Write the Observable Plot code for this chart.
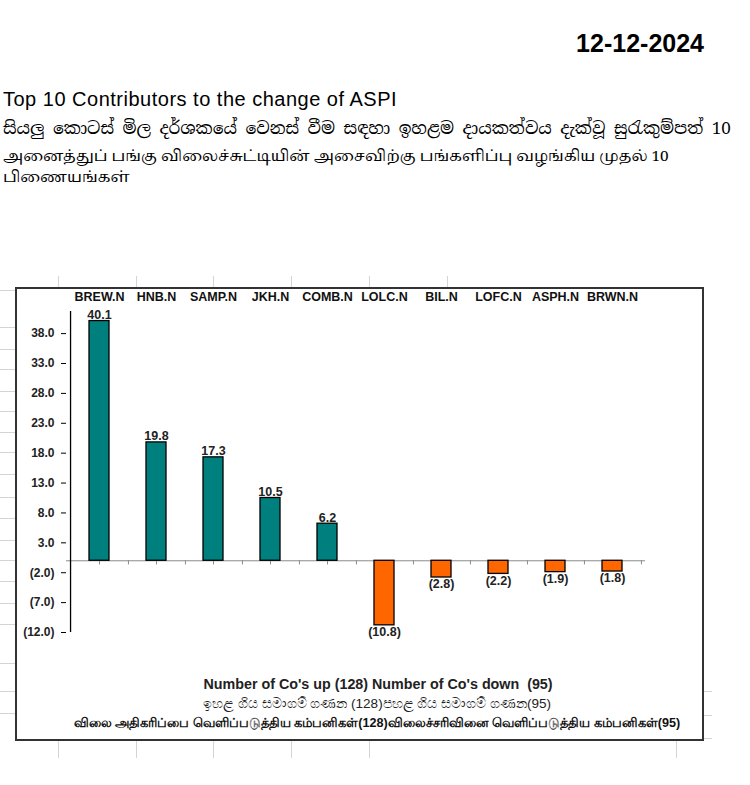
<!DOCTYPE html>
<html><head><meta charset="utf-8">
<script src="https://cdn.jsdelivr.net/npm/d3@7"></script>
<script src="https://cdn.jsdelivr.net/npm/@observablehq/plot@0.6"></script>
<style>
body{margin:0;background:#fff;font-family:"Liberation Sans",Arial,sans-serif;color:#000;}
#page{position:relative;width:750px;height:785px;overflow:hidden;}
.abs{position:absolute;white-space:nowrap;}
.gl{position:absolute;background:#d4d4d4;}
.ta{font-family:"Noto Serif Tamil","Noto Sans Tamil","Lohit Tamil","Latha","FreeSerif","FreeSans",serif;}
.si{font-family:"Noto Serif Sinhala","Noto Sans Sinhala","Iskoola Pota",serif;}
#box{position:absolute;left:15px;top:287px;width:689px;height:454px;border:2px solid #333;box-sizing:border-box;background:#fff;}
#chart{position:absolute;left:0;top:287px;}
</style></head><body><div id="page">
<div id="deco"></div>
<div id="box"></div>
<div class="abs" style="right:46px;top:30px;font-size:25px;line-height:26px;font-weight:bold;">12-12-2024</div>
<div class="abs" style="left:3px;top:89px;font-size:20px;line-height:20px;letter-spacing:0.5px;">Top 10 Contributors to the change of ASPI</div>
<div class="abs si" style="left:3px;top:117px;font-size:17px;line-height:22px;">සියලු කොටස් මිල දර්ශකයේ වෙනස් වීම සඳහා ඉහළම දායකත්වය දැක්වූ සුරැකුම්පත් 10</div>
<div class="abs ta" style="left:3px;top:148px;font-size:15.3px;line-height:19px;">அனைத்துப் பங்கு விலைச்சுட்டியின் அசைவிற்கு பங்களிப்பு வழங்கிய முதல் 10</div>
<div class="abs ta" style="left:3px;top:169px;font-size:15.3px;line-height:19px;">பிணையங்கள்</div>
<div id="chart"></div>
<div class="abs" style="left:378px;top:677px;transform:translateX(-50%);font-size:14.3px;line-height:14px;font-weight:bold;color:#222;">Number of Co's up (128) Number of Co's down&nbsp; (95)</div>
<div class="abs" style="left:377px;top:697px;transform:translateX(-50%);font-size:13.5px;line-height:14px;color:#222;">ඉහළ ගිය සමාගම් ගණන (128)පහළ ගිය සමාගම් ගණන(95)</div>
<div class="abs" style="left:377px;top:716px;transform:translateX(-50%);font-size:12.6px;line-height:14px;font-weight:bold;color:#111;">விலை அதிகரிப்பை வெளிப்படுத்திய கம்பனிகள்(128)விலைச்சரிவினை வெளிப்படுத்திய கம்பனிகள்(95)</div>
</div>
<script>
// ---- data ----
const categories = ["BREW.N", "HNB.N", "SAMP.N", "JKH.N", "COMB.N", "LOLC.N", "BIL.N", "LOFC.N", "ASPH.N", "BRWN.N"];
const values = [40.1, 19.8, 17.3, 10.5, 6.2, -10.8, -2.8, -2.2, -1.9, -1.8];
const yTicks = [38, 33, 28, 23, 18, 13, 8, 3, -2, -7, -12];
const yMin = -12, yMax = 41.7;

// ---- decorative spreadsheet gridlines (outside chart box) ----
const deco = document.getElementById("deco");
function line(x, y, w, h) { const d = document.createElement("div"); d.className = "gl"; Object.assign(d.style, {left: x + "px", top: y + "px", width: w + "px", height: h + "px"}); deco.appendChild(d); }
[290, 327, 349, 369, 391, 411, 432, 452, 474, 497, 518, 540, 560, 581, 603, 624, 663, 691, 713].forEach(y => line(0, y, 15, 1));
[691, 715, 738].forEach(y => line(704, y, 8, 1));
[58, 136, 213, 291, 369, 447].forEach(x => line(x, 276, 1, 11));
[58, 136, 213, 291, 369, 676].forEach(x => line(x, 741, 1, 17));

// ---- chart ----
const data = categories.map((c, i) => ({name: c, value: values[i]}));
const pos = data.filter(d => d.value >= 0), neg = data.filter(d => d.value < 0);
const fmt = v => v < 0 ? `(${Math.abs(v).toFixed(1)})` : v.toFixed(1);
const W = 750, H = 360, ML = 66, MR = 105, MT = 24, MB = 15;
const step = (W - ML - MR) / categories.length;
const font = "Liberation Sans, Arial, sans-serif";

const chart = Plot.plot({
  width: W, height: H, marginLeft: ML, marginRight: MR, marginTop: MT, marginBottom: MB,
  style: {background: "transparent", fontFamily: font, fontSize: "12px", overflow: "visible"},
  x: {type: "band", domain: categories, paddingInner: 0.643, paddingOuter: 0.3215, axis: null},
  y: {domain: [yMin, yMax], axis: null},
  marks: [
    Plot.ruleY([0], {stroke: "#8c8c8c", strokeWidth: 1}),
    Plot.ruleX(categories, {x: d => d, y1: 0, y2: -0.7, stroke: "#8c8c8c"}),
    Plot.ruleX(categories, {x: d => d, y1: 0, y2: -0.7, stroke: "#8c8c8c", dx: step / 2}),
    Plot.barY(pos, {x: "name", y: "value", fill: "#007f7f", stroke: "#000", strokeWidth: 1.3}),
    Plot.barY(neg, {x: "name", y: "value", fill: "#ff6600", stroke: "#000", strokeWidth: 1.3}),
    Plot.ruleX([categories[0]], {x: d => d, y1: yMin, y2: yMax, dx: -step / 2, stroke: "#000", strokeWidth: 1.3}),
    Plot.axisY({ticks: yTicks, tickSize: 5, tickPadding: 7, tickFormat: fmt, anchor: "left", label: null, fontSize: 12, fontWeight: "bold", fill: "#222", stroke: "#000"}),
    Plot.text(pos, {x: "name", y: "value", text: d => fmt(d.value), lineAnchor: "bottom", dy: -2, fontSize: 12.5, fontWeight: "bold", fill: "#222"}),
    Plot.text(neg, {x: "name", y: "value", text: d => fmt(d.value), lineAnchor: "top", dy: 2, fontSize: 12.5, fontWeight: "bold", fill: "#222"}),
    Plot.text(categories, {x: d => d, frameAnchor: "top", dy: -19, text: d => d, fontSize: 12.5, fontWeight: "bold", fill: "#111"})
  ]
});
document.getElementById("chart").appendChild(chart);
</script>
</body></html>
